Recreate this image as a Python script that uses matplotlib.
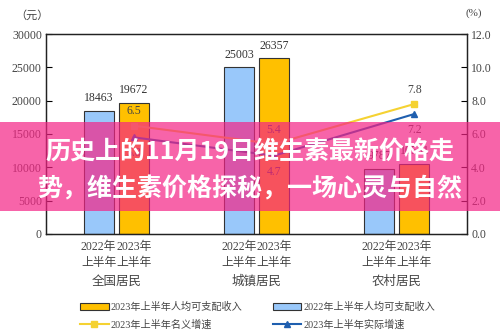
import matplotlib
matplotlib.use("Agg")
import matplotlib.pyplot as plt
from matplotlib.patches import Rectangle
import numpy as np

plt.rcParams['font.family'] = ['Liberation Serif', 'Noto Sans CJK SC', 'DejaVu Sans']

groups = ['全国居民', '城镇居民', '农村居民']
income_2022 = [18463, 25003, 9787]
income_2023 = [19672, 26357, 10551]
nominal_growth = [6.5, 5.4, 7.8]
real_growth = [5.8, 4.7, 7.2]
bar_labels = ['2022年\n上半年', '2023年\n上半年']
left_ticks = [0, 5000, 10000, 15000, 20000, 25000, 30000]
right_ticks = [0.0, 2.0, 4.0, 6.0, 8.0, 10.0, 12.0]
title_lines = ['历史上的11月19日维生素最新价格走', '势，维生素价格探秘，一场心灵与自然']

fig = plt.figure(figsize=(5, 3.35), dpi=100)
ax = fig.add_axes([0.092, 0.3015, 0.842, 0.597])
ax2 = ax.twinx()

x = np.arange(len(groups))
w = 0.215
off = 0.125
b1 = ax.bar(x - off, income_2022, w, color='#99C8FA', edgecolor='#333333', linewidth=0.8,
            label='2022年上半年人均可支配收入')
b2 = ax.bar(x + off, income_2023, w, color='#FFC000', edgecolor='#333333', linewidth=0.8,
            label='2023年上半年人均可支配收入')
for xi, v in zip(x - off, income_2022):
    ax.text(xi, v + 1000, str(v), ha='center', va='bottom', fontsize=8.5, color='#333333')
for xi, v in zip(x + off, income_2023):
    ax.text(xi, v + 1000, str(v), ha='center', va='bottom', fontsize=8.5, color='#333333')

ax.set_xlim(-0.5, 2.5)
ax.set_ylim(0, 30000)
ax.set_yticks(left_ticks)
ax.set_yticklabels([str(t) for t in left_ticks], fontsize=8.5, color='#444444')
ax.tick_params(axis='y', direction='in', length=4, pad=3)

xt = list(x - off) + list(x + off)
ax.set_xticks(sorted(xt))
ax.set_xticklabels(bar_labels * 3, fontsize=8.5, color='#444444', linespacing=1.5)
ax.tick_params(axis='x', length=0, pad=5)
for xi, g in zip(x, groups):
    ax.text(xi, -0.24, g, transform=ax.get_xaxis_transform(), ha='center', va='center',
            fontsize=9, color='#444444')

l1, = ax2.plot(x + off, nominal_growth, color='#F5D232', marker='s', markersize=5, linewidth=1.5,
               label='2023年上半年名义增速')
l2, = ax2.plot(x + off, real_growth, color='#1F5FAF', marker='^', markersize=5, linewidth=1.5,
               label='2023年上半年实际增速')
for xi, v in zip(x + off, nominal_growth):
    ax2.text(xi, v + 0.5, f'{v:.1f}', ha='center', va='bottom', fontsize=8.5, color='#444444')
for xi, v in zip(x + off, real_growth):
    ax2.text(xi, v - 0.6, f'{v:.1f}', ha='center', va='top', fontsize=8.5, color='#444444')
ax2.set_ylim(0, 12)
ax2.set_yticks(right_ticks)
ax2.set_yticklabels([f'{t:.1f}' for t in right_ticks], fontsize=8.5, color='#444444')
ax2.tick_params(axis='y', direction='in', length=4, pad=3)

for a in (ax, ax2):
    for s in a.spines.values():
        s.set_color('#222222')
        s.set_linewidth(0.9)

fig.text(0.03, 0.955, '（元）', fontsize=8, color='#444444', ha='left', va='center')
fig.text(0.93, 0.96, '(%)', fontsize=8, color='#444444', ha='left', va='center')

fig.legend([b2, l1, b1, l2],
           ['2023年上半年人均可支配收入', '2023年上半年名义增速',
            '2022年上半年人均可支配收入', '2023年上半年实际增速'],
           ncol=2, loc='center', bbox_to_anchor=(0.515, 0.058), frameon=False,
           fontsize=7.3, handlelength=2.8, columnspacing=3.0, labelspacing=0.75,
           handletextpad=0.2, labelcolor='#444444')

# pink banner with title over the chart
fig.patches.append(Rectangle((0, 0.370), 1, 0.266, transform=fig.transFigure,
                             facecolor='#F52385', alpha=0.7, edgecolor='none', zorder=5))
fig.text(0.5, 0.545, title_lines[0], ha='center', va='center', fontsize=18, fontweight='bold',
         color='white', family=['Noto Sans CJK SC', 'DejaVu Sans'], zorder=6)
fig.text(0.5, 0.435, title_lines[1], ha='center', va='center', fontsize=18, fontweight='bold',
         color='white', family=['Noto Sans CJK SC', 'DejaVu Sans'], zorder=6)

fig.savefig('out.png', dpi=100)
